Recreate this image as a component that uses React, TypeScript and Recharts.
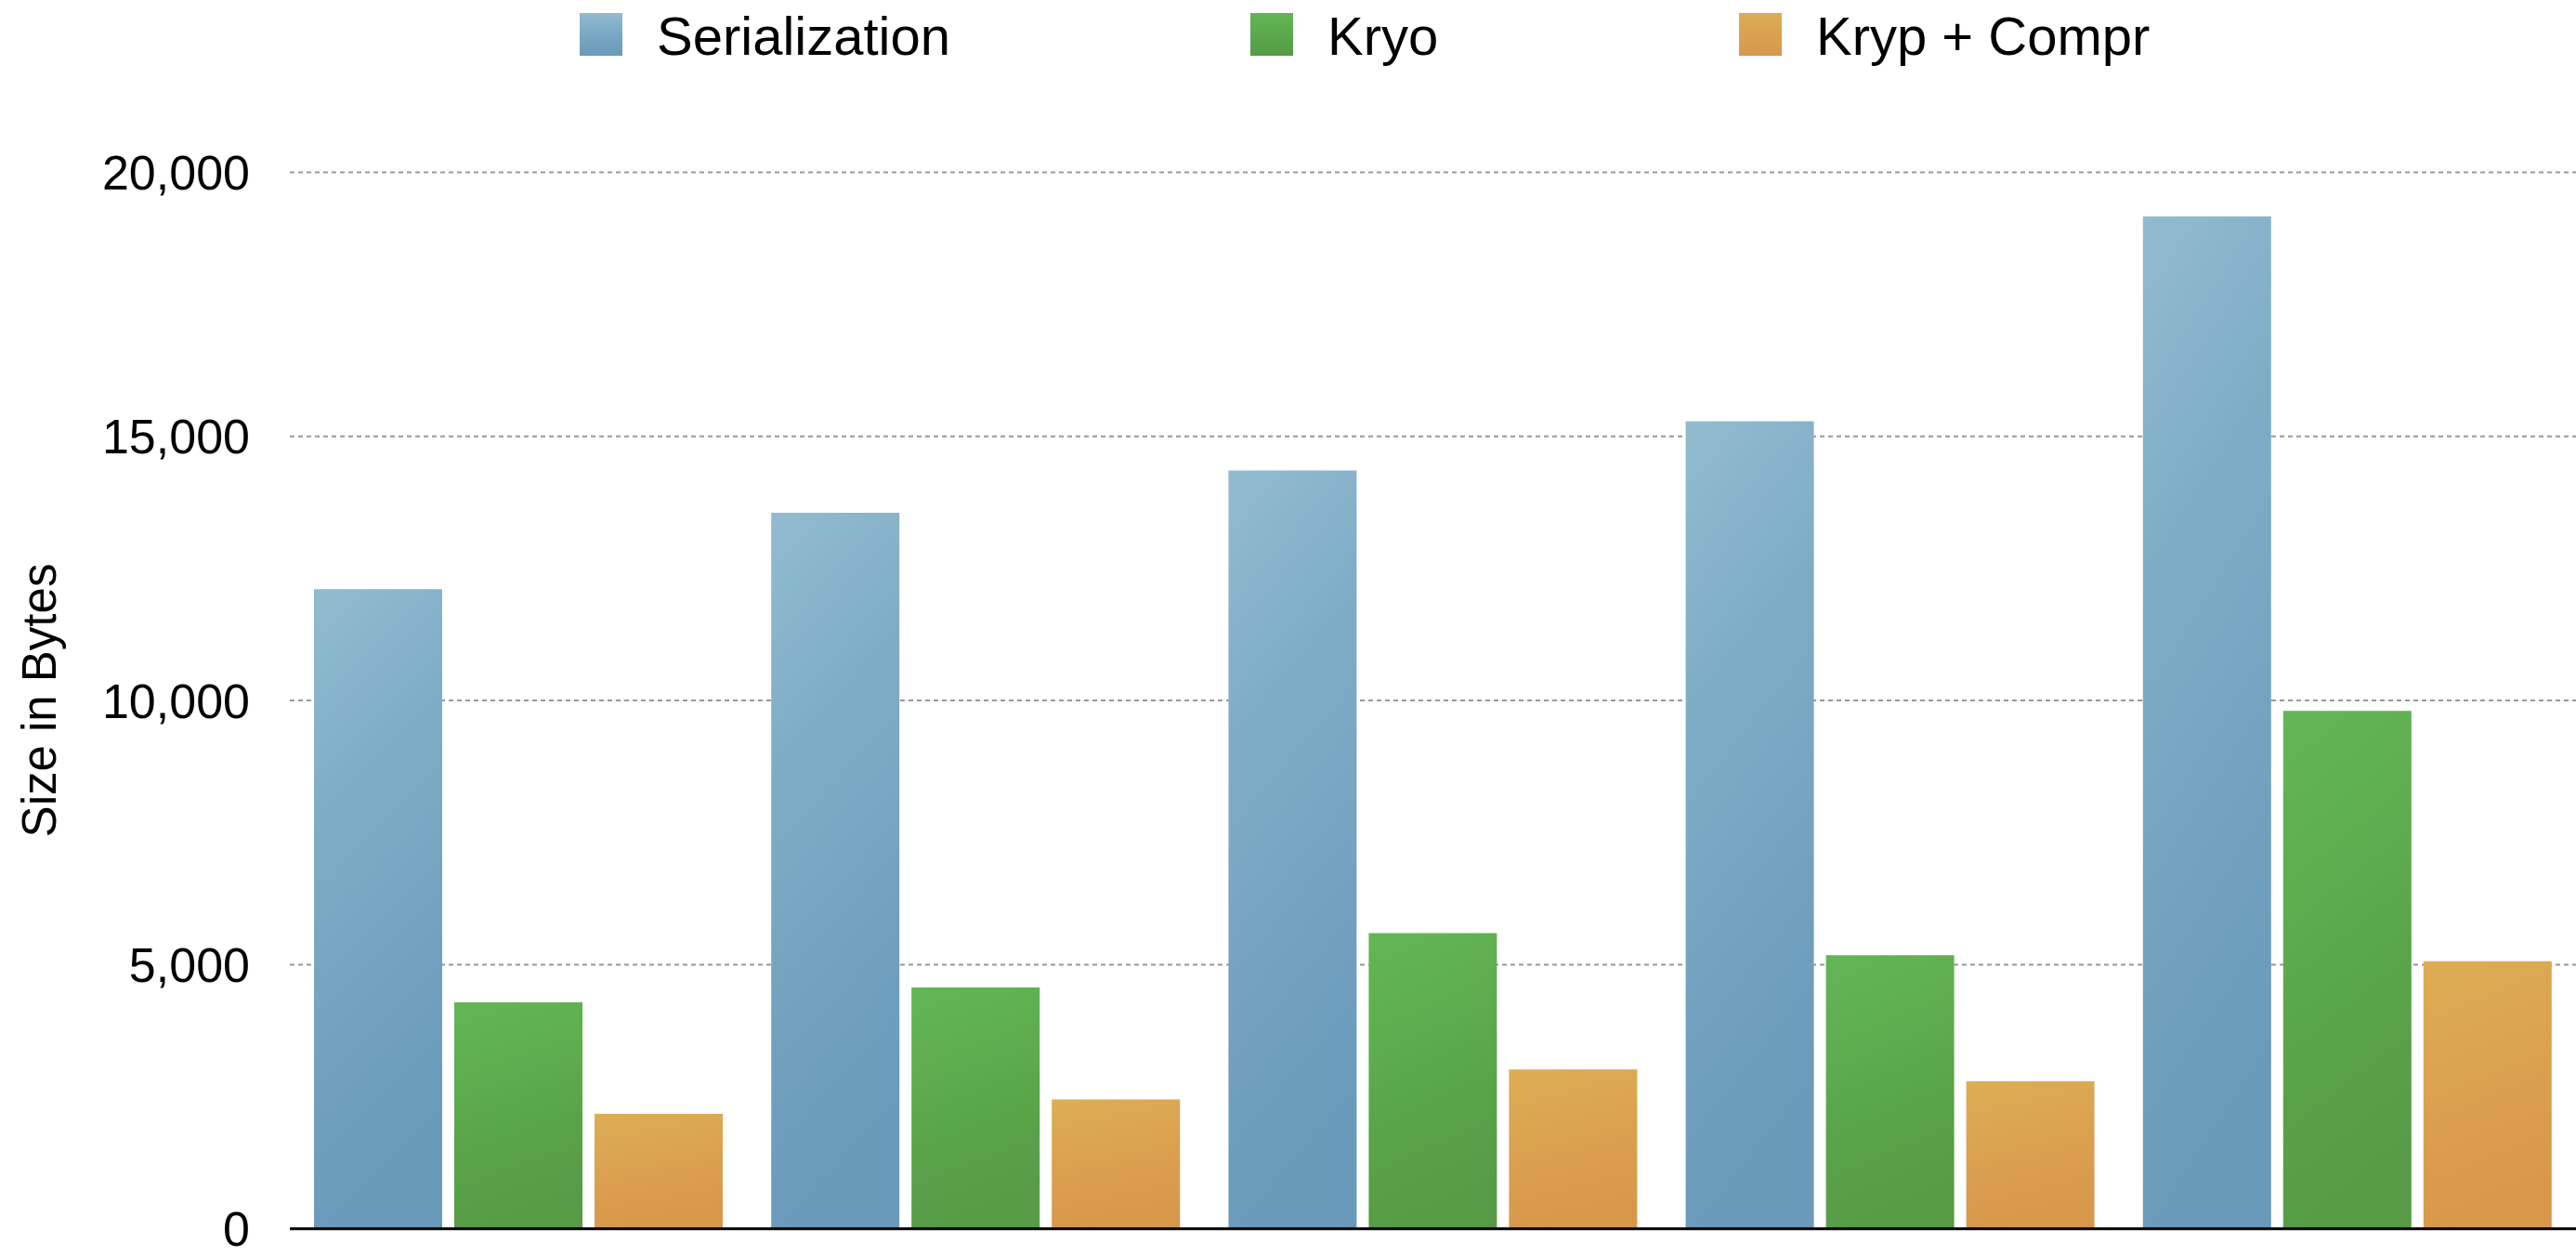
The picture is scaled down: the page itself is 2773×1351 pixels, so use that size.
import React from 'react';
import { BarChart, Bar, XAxis, YAxis, CartesianGrid, Legend, Label } from 'recharts';

const categories = ['1', '2', '3', '4', '5'];
const serialization = [12110, 13555, 14355, 15285, 19165];
const kryo = [4286, 4567, 5598, 5178, 9805];
const krypCompr = [2176, 2450, 3014, 2791, 5065];
const yTicks = [0, 5000, 10000, 15000, 20000];
const seriesNames = ['Serialization', 'Kryo', 'Kryp + Compr'];

const data = categories.map((c, i) => ({
  name: c,
  ser: serialization[i],
  kryo: kryo[i],
  compr: krypCompr[i],
}));

const W = 2773;
const H = 1351;
const FONT = '"Liberation Sans", Helvetica, Arial, sans-serif';

const gradients = [
  { id: 'gBlue', stops: ['#92bbcf', '#7eaec6', '#73a3c0', '#6a9aba'] },
  { id: 'gGreen', stops: ['#64b556', '#5eae50', '#59a449', '#579b46'] },
  { id: 'gOrange', stops: ['#ddad55', '#dca551', '#da9e4e', '#d7984b'] },
];

const legendX = [624, 1346, 1872];

const renderLegend = () => {
  return (
    <svg width={W} height={90} style={{ display: 'block' }}>
      <defs>
        {gradients.map((g) => (
          <linearGradient key={g.id} id={g.id + 'L'} x1="0" y1="0" x2="0" y2="1">
            {g.stops.map((s, k) => (
              <stop key={k} offset={k / (g.stops.length - 1)} stopColor={s} />
            ))}
          </linearGradient>
        ))}
      </defs>
      {seriesNames.map((name, i) => (
        <g key={name}>
          <rect x={legendX[i]} y={14} width={46} height={46} fill={`url(#${gradients[i].id}L)`} />
          <text
            x={legendX[i] + 83}
            y={59}
            fontFamily={FONT}
            fontSize={58}
            fill="#000"
          >
            {name}
          </text>
        </g>
      ))}
    </svg>
  );
};

const YTitle = () => (
  <text
    x={60}
    y={754}
    transform="rotate(-90 60 754)"
    textAnchor="middle"
    fontFamily={FONT}
    fontSize={51}
    fill="#000"
  >
    Size in Bytes
  </text>
);

export default function App() {
  return (
    <div style={{ position: 'absolute', left: 0, top: 0, width: W, height: H, background: '#fff', fontFamily: FONT }}>
      <BarChart
        width={W}
        height={H}
        data={data}
        margin={{ top: 185.5, right: 0, left: 0, bottom: 0 }}
        barCategoryGap={26}
        barGap={13}
      >
        <defs>
          {gradients.map((g) => (
            <linearGradient key={g.id} id={g.id} x1="0" y1="0" x2="0.2" y2="1">
              {g.stops.map((s, k) => (
                <stop key={k} offset={k / (g.stops.length - 1)} stopColor={s} />
              ))}
            </linearGradient>
          ))}
        </defs>
        <CartesianGrid vertical={false} stroke="#979797" strokeWidth={2} strokeDasharray="5 4" />
        <XAxis
          dataKey="name"
          height={28.3}
          tick={false}
          tickLine={false}
          axisLine={{ stroke: '#000', strokeWidth: 3 }}
        />
        <YAxis
          width={312}
          domain={[0, 20000]}
          ticks={yTicks}
          interval={0}
          tickLine={false}
          axisLine={false}
          tickSize={0}
          tickMargin={43}
          tickFormatter={(v: number) => v.toLocaleString('en-US')}
          tick={{ fill: '#000', fontSize: 52, fontFamily: FONT }}
        >
          <Label content={<YTitle />} />
        </YAxis>
        <Legend
          layout="horizontal"
          verticalAlign="middle"
          align="center"
          content={renderLegend}
          wrapperStyle={{ top: 0, left: 0, width: W, height: 90 }}
        />
        <Bar dataKey="ser" name={seriesNames[0]} fill="url(#gBlue)" isAnimationActive={false} />
        <Bar dataKey="kryo" name={seriesNames[1]} fill="url(#gGreen)" isAnimationActive={false} />
        <Bar dataKey="compr" name={seriesNames[2]} fill="url(#gOrange)" isAnimationActive={false} />
      </BarChart>
    </div>
  );
}
